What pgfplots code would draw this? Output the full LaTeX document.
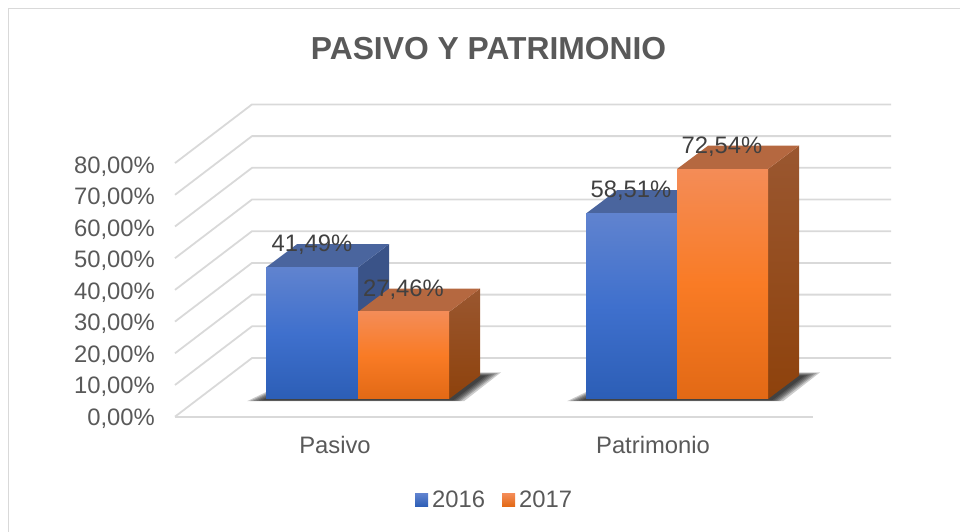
\documentclass[border=0pt]{standalone}
\usepackage{fontspec}
\setmainfont{Liberation Sans}
\usepackage{pgfplots}
\pgfplotsset{compat=1.18}
\definecolor{gridc}{HTML}{D9D9D9}
\definecolor{txt}{HTML}{595959}
\definecolor{lab}{HTML}{404040}
\definecolor{bluetop}{HTML}{6083CF}
\definecolor{bluemid}{HTML}{3F70CD}
\definecolor{bluebot}{HTML}{2C5EB6}
\definecolor{bluecap}{HTML}{4A659E}
\definecolor{blueside}{HTML}{3A5388}
\definecolor{orgtop}{HTML}{F48C57}
\definecolor{orgmid}{HTML}{F97B25}
\definecolor{orgbot}{HTML}{E26915}
\definecolor{orgcap}{HTML}{B56840}
\definecolor{orgsidet}{HTML}{9A5730}
\definecolor{orgsideb}{HTML}{8E420C}
\begin{document}
\begin{tikzpicture}
\useasboundingbox (0pt,0pt) rectangle (960pt,532pt);
% main drawing axis: x in pixels, y in percent on the front plane of the bars
\begin{axis}[
  at={(0pt,0pt)}, anchor=south west,
  scale only axis, width=960pt, height=532pt,
  xmin=0, xmax=960, ymin=-41.956, ymax=125.868,
  hide axis, clip=false,
  grid3/.style={draw=gridc, line width=1.8pt, line join=round},
  frontblue/.style={draw=none, top color=bluetop, bottom color=bluebot, middle color=bluemid},
  frontorg/.style={draw=none, top color=orgtop, bottom color=orgbot, middle color=orgmid},
  capblue/.style={draw=none, fill=bluecap},
  sideblue/.style={draw=none, fill=blueside},
  caporg/.style={draw=none, fill=orgcap},
  sideorg/.style={draw=none, top color=orgsidet, bottom color=orgsideb},
  shad/.style={draw=none, fill=black, fill opacity=0.2},
]
% frame
\addplot[draw=gridc, line width=1.8pt] coordinates {(8.5,-41.956) (8.5,123.2) (960,123.2)};
% walls and floor
\addplot[grid3] coordinates {(175,-5.58) (252,12.93) (891,12.93)};
\addplot[grid3] coordinates {(175,-5.58) (813,-5.58)};
\addplot[grid3] coordinates {(175,4.42) (252,22.93) (891,22.93)};
\addplot[grid3] coordinates {(175,14.42) (252,32.93) (891,32.93)};
\addplot[grid3] coordinates {(175,24.42) (252,42.93) (891,42.93)};
\addplot[grid3] coordinates {(175,34.42) (252,52.93) (891,52.93)};
\addplot[grid3] coordinates {(175,44.42) (252,62.93) (891,62.93)};
\addplot[grid3] coordinates {(175,54.42) (252,72.93) (891,72.93)};
\addplot[grid3] coordinates {(175,64.42) (252,82.93) (891,82.93)};
\addplot[grid3] coordinates {(175,74.42) (252,92.93) (891,92.93)};
% shadows, soft-edged by layering
\addplot[shad] coordinates {(247,-0.7) (270,2.8) (480,8.4) (501,8.4) (464,-0.7)} -- cycle;
\addplot[shad] coordinates {(250,-0.65) (270,2.4) (480,8.2) (498,8.2) (461,-0.65)} -- cycle;
\addplot[shad] coordinates {(253,-0.6) (270,2.0) (480,8.0) (495,8.0) (459,-0.6)} -- cycle;
\addplot[shad] coordinates {(256,-0.55) (270,1.6) (480,7.8) (492,7.8) (457,-0.55)} -- cycle;
\addplot[shad] coordinates {(259,-0.5) (270,1.2) (480,7.6) (489,7.6) (455,-0.5)} -- cycle;
\addplot[shad] coordinates {(262,-0.45) (270,0.8) (480,7.4) (486,7.4) (453,-0.45)} -- cycle;
\addplot[shad] coordinates {(567,-0.7) (590,2.8) (799,8.4) (820,8.4) (783,-0.7)} -- cycle;
\addplot[shad] coordinates {(570,-0.65) (590,2.4) (799,8.2) (817,8.2) (780,-0.65)} -- cycle;
\addplot[shad] coordinates {(573,-0.6) (590,2.0) (799,8.0) (814,8.0) (778,-0.6)} -- cycle;
\addplot[shad] coordinates {(576,-0.55) (590,1.6) (799,7.8) (811,7.8) (776,-0.55)} -- cycle;
\addplot[shad] coordinates {(579,-0.5) (590,1.2) (799,7.6) (808,7.6) (774,-0.5)} -- cycle;
\addplot[shad] coordinates {(582,-0.45) (590,0.8) (799,7.4) (805,7.4) (772,-0.45)} -- cycle;
% Pasivo 2016
\addplot[sideblue] coordinates {(358,0) (358,41.49) (389,48.84) (389,7.35)} -- cycle;
\addplot[capblue] coordinates {(266,41.49) (358,41.49) (389,48.84) (297,48.84)} -- cycle;
\addplot[frontblue] coordinates {(266,0) (266,41.49) (358,41.49) (358,0)} -- cycle;
% Pasivo 2017
\addplot[sideorg] coordinates {(449,0) (449,27.46) (480,34.81) (480,7.35)} -- cycle;
\addplot[caporg] coordinates {(358,27.46) (449,27.46) (480,34.81) (389,34.81)} -- cycle;
\addplot[frontorg] coordinates {(358,0) (358,27.46) (449,27.46) (449,0)} -- cycle;
% Patrimonio 2016
\addplot[sideblue] coordinates {(677,0) (677,58.51) (708,65.86) (708,7.35)} -- cycle;
\addplot[capblue] coordinates {(586,58.51) (677,58.51) (708,65.86) (617,65.86)} -- cycle;
\addplot[frontblue] coordinates {(586,0) (586,58.51) (677,58.51) (677,0)} -- cycle;
% Patrimonio 2017
\addplot[sideorg] coordinates {(768,0) (768,72.54) (799,79.89) (799,7.35)} -- cycle;
\addplot[caporg] coordinates {(677,72.54) (768,72.54) (799,79.89) (708,79.89)} -- cycle;
\addplot[frontorg] coordinates {(677,0) (677,72.54) (768,72.54) (768,0)} -- cycle;
% value labels
\begin{scope}[every node/.style={font=\fontsize{23.8}{26}\selectfont, text=lab, inner sep=0pt}]
\node at (axis cs:312,41.49) [yshift=22.5pt] {41,49\%};
\node at (axis cs:403.5,27.46) [yshift=22.5pt] {27,46\%};
\node at (axis cs:631,58.51) [yshift=22.5pt] {58,51\%};
\node at (axis cs:722,72.54) [yshift=22.5pt] {72,54\%};
\end{scope}
\node[font=\fontsize{31.8}{34}\selectfont\bfseries, text=txt, inner sep=0pt] at (axis cs:488.5,110.6) {PASIVO Y PATRIMONIO};
\end{axis}
% labelling axis: tick labels and legend
\begin{axis}[
  at={(175pt,116pt)}, anchor=south west,
  scale only axis, width=640pt, height=252pt,
  xmin=0, xmax=640, ymin=0, ymax=80,
  axis line style={draw=none}, major tick length=0pt,
  tick style={draw=none},
  xtick={160,478}, xticklabels={Pasivo,Patrimonio},
  ytick={0,10,...,80},
  yticklabels={{0,00\%},{10,00\%},{20,00\%},{30,00\%},{40,00\%},{50,00\%},{60,00\%},{70,00\%},{80,00\%}},
  ticklabel style={font=\fontsize{23.8}{26}\selectfont, text=txt, inner sep=0pt},
  yticklabel style={anchor=east, xshift=-20pt, yshift=-2.5pt},
  xticklabel style={anchor=center, yshift=-29pt},
  legend style={at={(0.4993,-0.333)}, anchor=center, draw=none, fill=none,
    font=\fontsize{23.8}{26}\selectfont, text=txt, legend columns=2,
    inner sep=0pt,
    /tikz/every even column/.append style={column sep=15pt},
    /tikz/every odd column/.append style={column sep=2pt}},
  legend cell align=left,
  legend image code/.code={\path[#1] (0pt,-6.5pt) rectangle (13pt,6.5pt);},
]
\addplot[draw=none, forget plot] coordinates {(0,0) (640,80)};
\addlegendimage{draw=none, top color=bluetop, bottom color=bluebot}
\addlegendentry{2016}
\addlegendimage{draw=none, top color=orgtop, bottom color=orgbot}
\addlegendentry{2017}
\end{axis}
\end{tikzpicture}
\end{document}
